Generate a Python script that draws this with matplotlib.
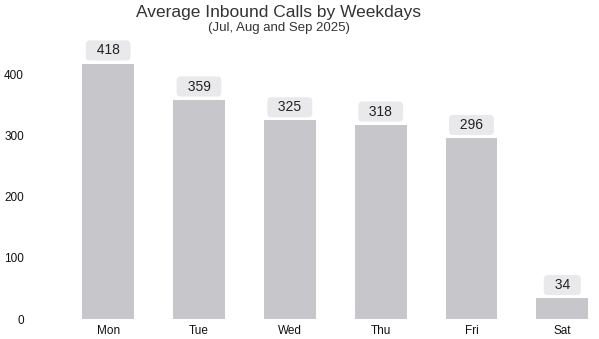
import matplotlib
matplotlib.use("Agg")
import matplotlib.pyplot as plt
import numpy as np

days = ["Mon", "Tue", "Wed", "Thu", "Fri", "Sat"]
avg_calls = [418, 359, 325, 318, 296, 34]

plt.rcParams["font.family"] = ["Liberation Sans", "DejaVu Sans"]

fig = plt.figure(figsize=(5.99, 3.39), dpi=100)
W, H = 599, 339
ax = fig.add_axes([60 / W, (H - 319) / H, 535 / W, (319 - 38) / H])

x = np.arange(len(days))
ax.bar(x, avg_calls, width=0.57, color="#c6c6cb")

# value labels in light rounded boxes just above each bar
for xi, v in zip(x, avg_calls):
    ax.annotate(f"  {v}  ", (xi, v), xytext=(0, 9.5), textcoords="offset points",
                ha="center", va="center", fontsize=10, color="#222222",
                bbox=dict(boxstyle="round,pad=0.22,rounding_size=0.3",
                          fc="#e9e9eb", ec="none"))

ax.set_xlim(-0.53, 5.36)
ax.set_ylim(0, 460)
ax.set_xticks(x)
ax.set_xticklabels(days, fontsize=8.5, color="#111111")
ax.set_yticks([0, 100, 200, 300, 400])
ax.tick_params(axis="y", labelsize=8.5, labelcolor="#111111", pad=26)
ax.tick_params(length=0)
ax.tick_params(axis="x", pad=4)
for s in ax.spines.values():
    s.set_visible(False)

fig.text(279 / W, 1 - 12 / H, "Average Inbound Calls by Weekdays", ha="center",
         va="center", fontsize=12.5, color="#333333")
fig.text(279 / W, 1 - 28 / H, "(Jul, Aug and Sep 2025)", ha="center",
         va="center", fontsize=9.5, color="#333333")

fig.savefig("out.png", dpi=100)
